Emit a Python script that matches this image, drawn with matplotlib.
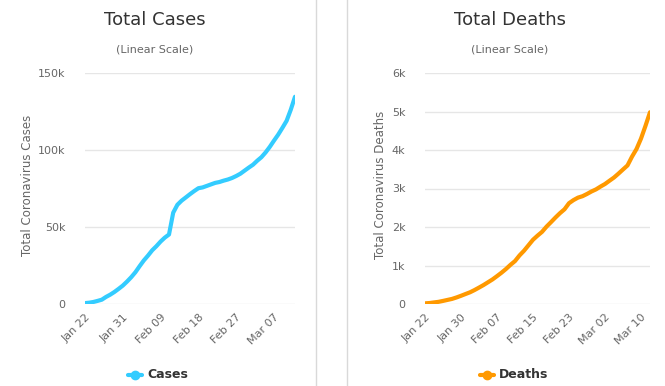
import matplotlib
matplotlib.use("Agg")
import matplotlib.pyplot as plt
from matplotlib.lines import Line2D
import numpy as np
import pandas as pd

dates = pd.date_range("2020-01-22", "2020-03-12", freq="D")

cases = [580, 845, 1317, 2015, 2800, 4581, 6058, 7813, 9823, 11950,
         14553, 17391, 20630, 24545, 28266, 31439, 34876, 37552, 40553, 43099,
         45134, 59287, 64438, 67100, 69197, 71329, 73332, 75184, 75700, 76677,
         77673, 78651, 79205, 80087, 80828, 81820, 83112, 84615, 86604, 88585,
         90443, 93016, 95314, 98425, 102050, 106099, 109991, 114381, 118948, 126214,
         134576]

deaths = [17, 25, 41, 56, 80, 106, 132, 170, 213, 259,
          304, 362, 426, 492, 565, 638, 724, 813, 910, 1018,
          1115, 1261, 1383, 1526, 1669, 1775, 1873, 2009, 2126, 2247,
          2360, 2460, 2618, 2699, 2763, 2800, 2858, 2923, 2977, 3050,
          3117, 3202, 3285, 3387, 3494, 3599, 3827, 4025, 4296, 4628,
          4981]

W, H = 665, 386
fig = plt.figure(figsize=(W / 100, H / 100), dpi=100)
fig.patch.set_facecolor("white")

text_gray = "#666666"
grid_col = "#e6e6e6"


def panel(x0, x1, values, color, title, ylabel, legend, yticks, ylabels, tick_step, title_x, ylab_x, leg_x):
    y0, y1 = 304, 73
    ax = fig.add_axes([x0 / W, 1 - y0 / H, (x1 - x0) / W, (y0 - y1) / H])
    x = np.arange(len(values))
    ax.plot(x, values, color=color, lw=3.0, solid_capstyle="round", solid_joinstyle="round")
    ax.set_xlim(0, len(values) - 1)
    ax.set_ylim(yticks[0], yticks[-1])
    ax.set_yticks(yticks)
    ax.set_yticklabels(ylabels)
    ticks = x[::tick_step]
    ax.set_xticks(ticks)
    ax.set_xticklabels([dates[i].strftime("%b %d") for i in ticks], rotation=45, ha="right",
                       rotation_mode="anchor")
    ax.tick_params(axis="both", length=0, colors=text_gray, labelsize=8)
    ax.tick_params(axis="y", pad=14)
    ax.tick_params(axis="x", pad=6)
    ax.grid(axis="y", color=grid_col, lw=1)
    ax.set_axisbelow(True)
    for s in ax.spines.values():
        s.set_visible(False)
    fig.text(title_x / W, 1 - 20 / H, title, ha="center", va="center", fontsize=13, color="#333333")
    fig.text(title_x / W, 1 - 50 / H, "(Linear Scale)", ha="center", va="center", fontsize=8, color=text_gray)
    fig.text(ylab_x / W, 1 - 185 / H, ylabel, ha="center", va="center", rotation=90, fontsize=8.5,
             color=text_gray)
    fig.add_artist(Line2D([(leg_x - 16) / W, (leg_x - 2) / W], [1 - 375 / H] * 2, color=color, lw=3.0,
                          solid_capstyle="round"))
    fig.add_artist(Line2D([(leg_x - 9) / W], [1 - 375 / H], marker="o", color=color, markersize=6))
    fig.text((leg_x + 3) / W, 1 - 375 / H, legend, ha="left", va="center", fontsize=9,
             fontweight="bold", color="#333333")
    return ax


panel(85, 295, cases, "#33ccff", "Total Cases", "Total Coronavirus Cases", "Cases",
      [0, 50000, 100000, 150000], ["0", "50k", "100k", "150k"], 9, 155, 28, 144)
panel(425, 650, deaths, "#ff9900", "Total Deaths", "Total Coronavirus Deaths", "Deaths",
      [0, 1000, 2000, 3000, 4000, 5000, 6000], ["0", "1k", "2k", "3k", "4k", "5k", "6k"], 8, 510, 380, 496)

for xv in (316, 347):
    fig.add_artist(Line2D([xv / W, xv / W], [0, 1], color="#d9d9d9", lw=1))

fig.savefig("out.png", dpi=100, facecolor="white")
